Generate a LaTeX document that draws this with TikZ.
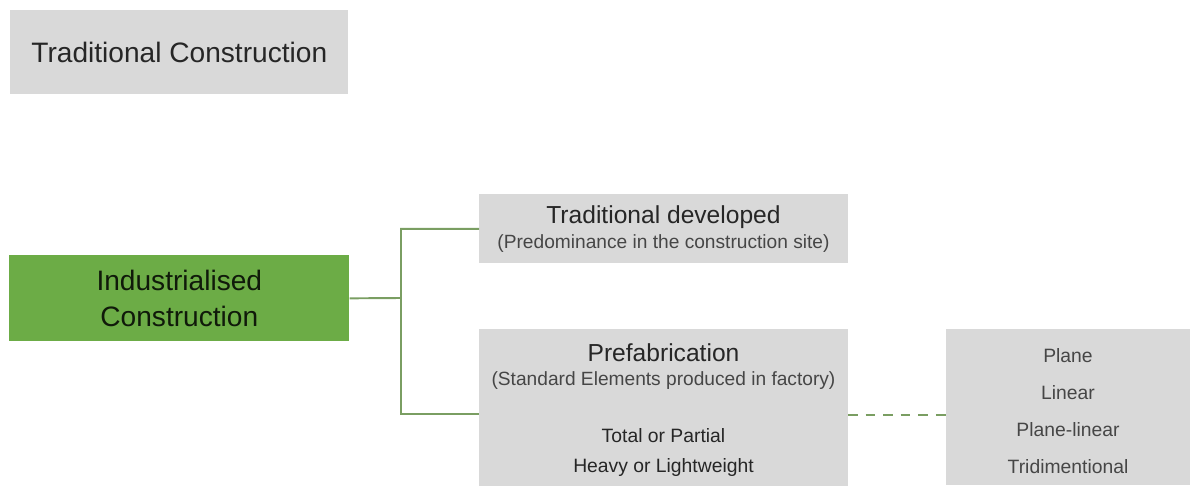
\documentclass[tikz,border=0pt]{standalone}
\usepackage{fontspec}
\setmainfont{Liberation Sans}
\definecolor{boxgrey}{RGB}{217,217,217}
\definecolor{indgreen}{RGB}{108,172,70}
\definecolor{linkgreen}{RGB}{122,158,98}
\definecolor{txtdark}{RGB}{38,38,38}
\definecolor{txtsub}{RGB}{70,70,70}
\tikzset{
  box/.style={anchor=north west, inner sep=0pt},
  label/.style={text=txtdark, inner sep=0pt},
  sublabel/.style={text=txtsub, inner sep=0pt, font=\fontsize{10.9}{12}\selectfont},
  link/.style={draw=linkgreen, line width=1.1pt},
}

\begin{document}
\begin{tikzpicture}[x=0.02cm, y=-0.02cm]
\useasboundingbox (0,0) rectangle (1192,489);
% boxes
\node[box, fill=boxgrey, minimum width=6.76cm, minimum height=1.68cm] (trad) at (10,10) {};
\node[box, fill=indgreen, minimum width=6.8cm, minimum height=1.72cm] (ind) at (9,255) {};
\node[box, fill=boxgrey, minimum width=7.38cm, minimum height=1.38cm] (devel) at (479,194) {};
\node[box, fill=boxgrey, minimum width=7.38cm, minimum height=3.14cm] (prefab) at (479,329) {};
\node[box, fill=boxgrey, minimum width=4.88cm, minimum height=3.12cm] (types) at (946,329) {};
% texts
\node[label, font=\fontsize{16}{19}\selectfont] (tradT) at (trad.center) {Traditional Construction};
\node[label, text=black!85!indgreen, font=\fontsize{16}{20.5}\selectfont, align=center] (indT) at (ind.center) {Industrialised\\Construction};
\node[label, font=\fontsize{14}{16}\selectfont] (develT) at (663.5,217) {Traditional developed};
\node[sublabel] (develS) at (663.5,244) {(Predominance in the construction site)};
\node[label, font=\fontsize{14}{16}\selectfont] (prefabT) at (663.5,353) {Prefabrication};
\node[sublabel] (prefabS) at (663.5,381) {(Standard Elements produced in factory)};
\node[label, font=\fontsize{11}{13}\selectfont] (prefabA) at (663.5,436) {Total or Partial};
\node[label, font=\fontsize{11}{13}\selectfont] (prefabB) at (663.5,468) {Heavy or Lightweight};
\foreach \t [count=\i] in {Plane, Linear, Plane-linear, Tridimentional}
  \node[label, text=txtsub, font=\fontsize{11}{13}\selectfont] (type\i) at (1068,{356+36.7*(\i-1)}) {\t};
% connectors
\coordinate (fork) at (401,298);
\coordinate (prefabin) at (479,414);
\coordinate (prefabout) at (848,415);
\draw[link] (ind.east) -- (fork) |- (devel.west);
\draw[link] (fork) |- (prefabin);
\draw[link, dash pattern=on 5.5pt off 4.5pt] (prefabout) -- (prefabout -| types.west);
\end{tikzpicture}
\end{document}
